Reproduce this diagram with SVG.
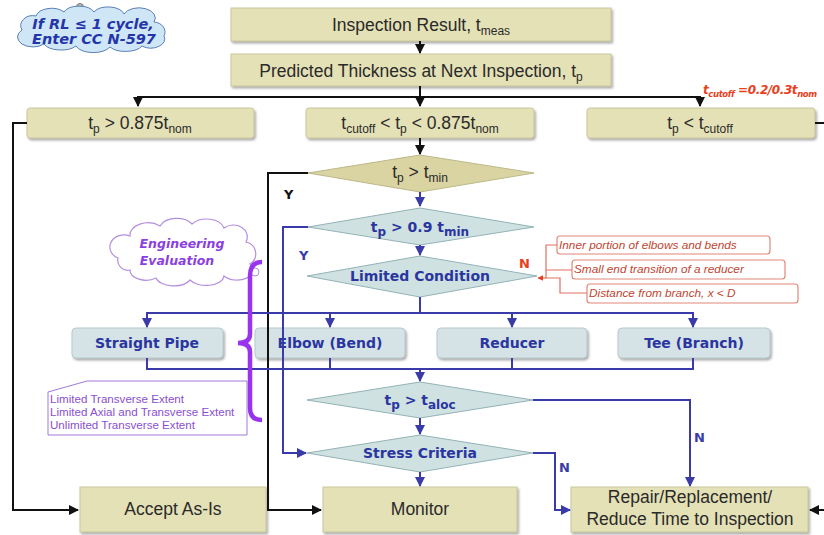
<svg xmlns="http://www.w3.org/2000/svg" width="824" height="535" viewBox="0 0 824 535">
<defs>
<filter id="sh" x="-5%" y="-20%" width="110%" height="150%"><feDropShadow dx="1.5" dy="2" stdDeviation="1" flood-color="#777" flood-opacity="0.6"/></filter>
<marker id="ak" viewBox="0 0 10 10" refX="9" refY="5" markerWidth="5" markerHeight="5" orient="auto"><path d="M0 0 L10 5 L0 10 z" fill="#111"/></marker>
<marker id="ab" viewBox="0 0 10 10" refX="9" refY="5" markerWidth="5" markerHeight="5" orient="auto"><path d="M0 0 L10 5 L0 10 z" fill="#3a3aa8"/></marker>
<marker id="ar" viewBox="0 0 10 10" refX="9" refY="5" markerWidth="5" markerHeight="5" orient="auto"><path d="M0 0 L10 5 L0 10 z" fill="#e8401c"/></marker>
</defs>
<style>
.bx{fill:#e4e1b6;stroke:#cbc79c;stroke-width:1;filter:url(#sh)}
.cp{fill:#d5e3e6;stroke:#b7cace;stroke-width:1;filter:url(#sh)}
.bd{fill:#d9d4a1;stroke:#bdb88a;stroke-width:1}
.gd{fill:#cfe1e1;stroke:#93b3b7;stroke-width:1}
.t{font-family:"Liberation Sans",Arial,sans-serif;font-size:17.5px;fill:#2a2a2a;text-anchor:middle}
.b{font-family:"DejaVu Sans",Verdana,sans-serif;font-size:14px;font-weight:bold;fill:#2a35a0;text-anchor:middle}
.s{font-size:12px}
.k{fill:none;stroke:#111;stroke-width:2}
.u{fill:none;stroke:#3a3aa8;stroke-width:2}
.r{fill:none;stroke:#e07060;stroke-width:1.2}
.rb{fill:#fff;stroke:#e08878;stroke-width:1.2}
.ri{font-family:"Liberation Sans",Arial,sans-serif;font-size:11.8px;font-style:italic;fill:#c04530}
.pi{font-family:"Liberation Sans",Arial,sans-serif;font-size:11.6px;fill:#8a4fd0}
</style>

<g id="cloud-rl">
<circle cx="80" cy="7" r="3.5" fill="#bbb" stroke="#777" stroke-width="1"/>
<path d="M22 30 a12 10 0 0 1 14 -14 a16 10 0 0 1 28 -4 a16 9 0 0 1 30 0 a16 9 0 0 1 30 2 a16 10 0 0 1 30 8 a12 10 0 0 1 10 14 a14 9 0 0 1 -22 10 a18 9 0 0 1 -32 1 a18 9 0 0 1 -34 -1 a18 9 0 0 1 -32 -2 a14 9 0 0 1 -22 -14 z" fill="#cfe6f7" stroke="#5a7fb8" stroke-width="1"/>
<text x="93" y="29" font-family="DejaVu Sans,Verdana,sans-serif" font-size="14.5" font-weight="bold" font-style="italic" fill="#2335a8" text-anchor="middle">If RL ≤ 1 cycle,</text>
<text x="94" y="44" font-family="DejaVu Sans,Verdana,sans-serif" font-size="14.5" font-weight="bold" font-style="italic" fill="#2335a8" text-anchor="middle">Enter CC N-597</text>
</g>

<g id="inspection-result"><rect class="bx" x="231" y="8" width="380" height="33"/>
<text class="t" x="421" y="31">Inspection Result, t<tspan class="s" dy="4">meas</tspan></text></g>

<g id="predicted"><rect class="bx" x="231" y="54" width="380" height="32"/>
<text class="t" x="421" y="77">Predicted Thickness at Next Inspection, t<tspan class="s" dy="4">p</tspan></text></g>

<g id="gt-0875"><rect class="bx" x="27" y="108" width="227" height="30" rx="3"/>
<text class="t" x="140" y="129">t<tspan class="s" dy="4">p</tspan><tspan dy="-4"> &gt; 0.875t</tspan><tspan class="s" dy="4">nom</tspan></text></g>

<g id="between"><rect class="bx" x="306" y="108" width="228" height="30" rx="3"/>
<text class="t" x="420" y="129">t<tspan class="s" dy="4">cutoff</tspan><tspan dy="-4"> &lt; t</tspan><tspan class="s" dy="4">p</tspan><tspan dy="-4"> &lt; 0.875t</tspan><tspan class="s" dy="4">nom</tspan></text></g>

<g id="lt-cutoff"><rect class="bx" x="587" y="108" width="228" height="30" rx="3"/>
<text class="t" x="700" y="129">t<tspan class="s" dy="4">p</tspan><tspan dy="-4"> &lt; t</tspan><tspan class="s" dy="4">cutoff</tspan></text></g>

<g id="cutoff-note"><text x="703" y="94" font-family="DejaVu Sans,Verdana,sans-serif" font-size="12" font-weight="bold" font-style="italic" fill="#e8401c" letter-spacing="-0.4">t<tspan font-size="8.5" dy="3">cutoff</tspan><tspan dy="-3"> =0.2/0.3t</tspan><tspan font-size="8.5" dy="3">nom</tspan></text></g>

<g id="d-tmin"><polygon class="bd" points="308,173 420,155 534,173 420,192"/>
<text class="t" x="420" y="178">t<tspan class="s" dy="4">p</tspan><tspan dy="-4"> &gt; t</tspan><tspan class="s" dy="4">min</tspan></text></g>

<g id="d-09tmin"><polygon class="gd" points="308,227 420,208 534,227 420,245"/>
<text class="b" x="420" y="232">t<tspan class="s" dy="4">p</tspan><tspan dy="-4"> &gt; 0.9 t</tspan><tspan class="s" dy="4">min</tspan></text></g>

<g id="d-limited"><polygon class="gd" points="307,276 420,256 537,276 420,297"/>
<text class="b" x="420" y="281">Limited Condition</text></g>

<g id="limited-list">
<rect class="rb" x="557" y="236" width="213" height="18" rx="3"/>
<text class="ri" x="559" y="249">Inner portion of elbows and bends</text>
<rect class="rb" x="572" y="260" width="213" height="19" rx="3"/>
<text class="ri" x="574" y="273">Small end transition of a reducer</text>
<rect class="rb" x="587" y="284" width="211" height="19" rx="3"/>
<text class="ri" x="589" y="297">Distance from branch, x &lt; D</text>
</g>

<g id="eng-eval">
<path d="M118 258 a14 12 0 0 1 12 -22 a18 12 0 0 1 30 -10 a18 12 0 0 1 32 -2 a18 12 0 0 1 32 4 a14 12 0 0 1 22 14 a12 12 0 0 1 4 22 a16 10 0 0 1 -26 12 a18 10 0 0 1 -34 4 a18 10 0 0 1 -34 -2 a16 10 0 0 1 -26 -8 a10 10 0 0 1 -12 -12 z" fill="#fff" stroke="#b48ee0" stroke-width="1.2"/>
<circle cx="255" cy="272" r="4" fill="#fff" stroke="#b48ee0" stroke-width="1"/>
<text x="182" y="248" font-family="DejaVu Sans,Verdana,sans-serif" font-size="12.5" font-weight="bold" font-style="italic" fill="#8a3fe0" text-anchor="middle">Engineering</text>
<text x="177" y="265" font-family="DejaVu Sans,Verdana,sans-serif" font-size="12.5" font-weight="bold" font-style="italic" fill="#8a3fe0" text-anchor="middle">Evaluation</text>
</g>

<g id="straight-pipe"><rect class="cp" x="72" y="328" width="151" height="30" rx="4"/><text class="b" x="147" y="348">Straight Pipe</text></g>
<g id="elbow"><rect class="cp" x="255" y="328" width="150" height="30" rx="4"/><text class="b" x="330" y="348">Elbow (Bend)</text></g>
<g id="reducer"><rect class="cp" x="437" y="328" width="150" height="30" rx="4"/><text class="b" x="512" y="348">Reducer</text></g>
<g id="tee"><rect class="cp" x="618" y="328" width="152" height="30" rx="4"/><text class="b" x="694" y="348">Tee (Branch)</text></g>

<g id="extent-note">
<polygon points="48,392 87,381 247,381 247,435 48,435" fill="#fff" stroke="#a07ad8" stroke-width="1"/>
<text class="pi" x="50" y="403">Limited Transverse Extent</text>
<text class="pi" x="50" y="416">Limited Axial and Transverse Extent</text>
<text class="pi" x="50" y="429">Unlimited Transverse Extent</text>
</g>

<g id="d-taloc"><polygon class="gd" points="307,400 420,382 533,400 420,418"/>
<text class="b" x="420" y="405">t<tspan class="s" dy="4">p</tspan><tspan dy="-4"> &gt; t</tspan><tspan class="s" dy="4">aloc</tspan></text></g>

<g id="d-stress"><polygon class="gd" points="307,453 420,435 533,453 420,472"/>
<text class="b" x="420" y="458">Stress Criteria</text></g>

<g id="accept"><rect class="bx" x="80" y="487" width="186" height="45"/><text class="t" x="173" y="515">Accept As-Is</text></g>
<g id="monitor"><rect class="bx" x="323" y="487" width="194" height="45"/><text class="t" x="420" y="515">Monitor</text></g>
<g id="repair"><rect class="bx" x="571" y="487" width="237" height="45"/>
<text class="t" x="690" y="503">Repair/Replacement/</text>
<text class="t" x="690" y="525">Reduce Time to Inspection</text></g>

<g id="connectors">
<path class="k" d="M420 41 V53" marker-end="url(#ak)"/>
<path class="k" d="M420 86 V97 M138 97 H700"/>
<path class="k" d="M138 96 V106" marker-end="url(#ak)"/>
<path class="k" d="M420 96 V106" marker-end="url(#ak)"/>
<path class="k" d="M700 96 V106" marker-end="url(#ak)"/>
<path class="k" d="M27 123 H13 V510 H78" marker-end="url(#ak)"/>
<path class="k" d="M420 138 V154" marker-end="url(#ak)"/>
<path class="k" d="M308 173 H268 V510 H321" marker-end="url(#ak)"/>
<path class="k" d="M815 123 H824"/>
<path class="k" d="M824 510 H810" marker-end="url(#ak)"/>
<text x="284" y="199" font-family="DejaVu Sans,Verdana,sans-serif" font-size="13" font-weight="bold" fill="#111">Y</text>

<path class="u" d="M420 192 V206" marker-end="url(#ab)"/>
<path class="u" d="M308 227 H283 V453 H306" marker-end="url(#ab)"/>
<text x="299" y="260" font-family="DejaVu Sans,Verdana,sans-serif" font-size="13" font-weight="bold" fill="#3a3aa8">Y</text>
<path class="u" d="M420 245 V255" marker-end="url(#ab)"/>
<path class="u" d="M420 297 V313 M147 313 H693"/>
<path class="u" d="M147 312 V327" marker-end="url(#ab)"/>
<path class="u" d="M330 312 V327" marker-end="url(#ab)"/>
<path class="u" d="M512 312 V327" marker-end="url(#ab)"/>
<path class="u" d="M693 312 V327" marker-end="url(#ab)"/>
<path class="u" d="M147 358 V369 H693 V358 M330 358 V369 M512 358 V369"/>
<path class="u" d="M420 369 V381" marker-end="url(#ab)"/>
<path class="u" d="M533 400 H690 V486" marker-end="url(#ab)"/>
<text x="694" y="442" font-family="DejaVu Sans,Verdana,sans-serif" font-size="13" font-weight="bold" fill="#3a3aa8">N</text>
<path class="u" d="M420 418 V434" marker-end="url(#ab)"/>
<path class="u" d="M533 453 H555 V510 H570" marker-end="url(#ab)"/>
<text x="559" y="472" font-family="DejaVu Sans,Verdana,sans-serif" font-size="13" font-weight="bold" fill="#3a3aa8">N</text>
<path class="u" d="M420 472 V486" marker-end="url(#ab)"/>

<path class="r" d="M557 245 H546 V278 H560 V293 H587 M546 270 H572"/>
<path class="r" d="M546 278 H538" marker-end="url(#ar)"/>
<text x="519" y="268" font-family="DejaVu Sans,Verdana,sans-serif" font-size="13" font-weight="bold" fill="#e8401c">N</text>

<path d="M262 262 Q250 262 250 276 L250 334 Q250 343 238 343 Q250 343 250 352 L250 408 Q250 420 262 420" fill="none" stroke="#9933ee" stroke-width="4.5"/>
</g>
</svg>
